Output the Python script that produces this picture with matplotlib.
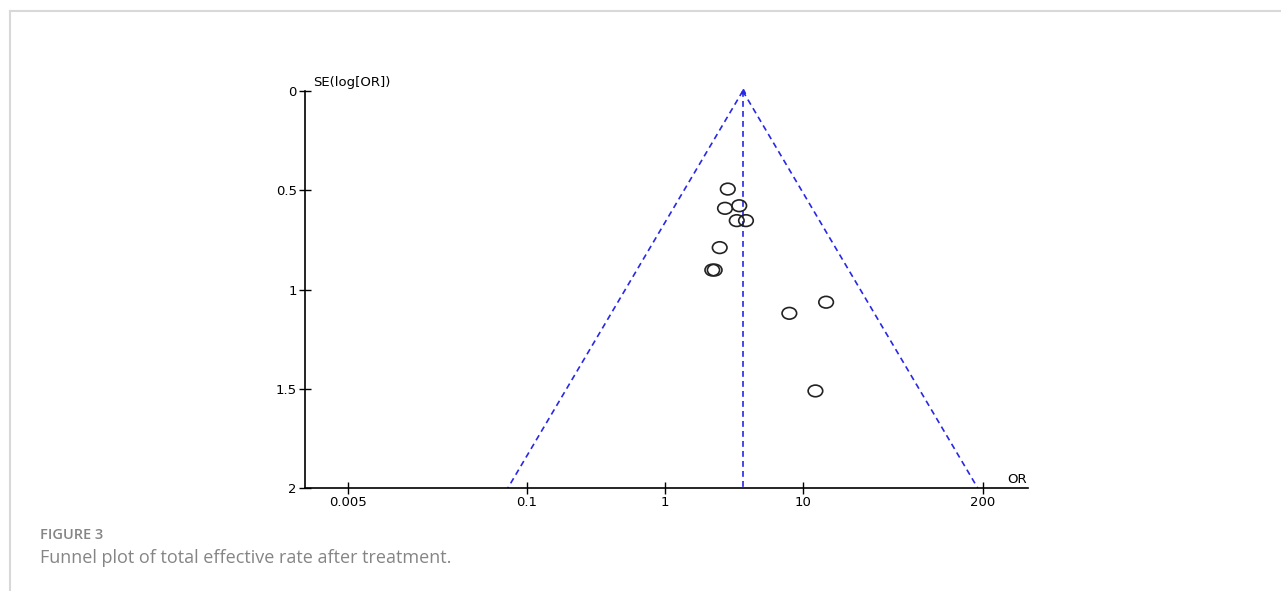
import numpy as np
import matplotlib
matplotlib.use('Agg')
from matplotlib import pyplot as plt
from matplotlib.lines import Line2D
from matplotlib.path import Path

# odds ratio and SE(log OR) of each study
odds_ratio = [2.85, 2.72, 3.45, 3.31, 3.86, 2.49, 2.20, 2.29, 7.96, 14.7, 12.3]
se_log_or = [0.494, 0.591, 0.578, 0.653, 0.653, 0.789, 0.902, 0.902, 1.120, 1.064, 1.511]
pooled_or = 3.66
se_max = 2.0

x_ticks = [0.005, 0.1, 1, 10, 200]
x_tick_labels = ['0.005', '0.1', '1', '10', '200']
y_ticks = [0, 0.5, 1, 1.5, 2]
y_tick_labels = ['0', '0.5', '1', '1.5', '2']

plt.rcParams['font.family'] = ['DejaVu Sans']

fig = plt.figure(figsize=(12.81, 5.91), dpi=100)
ax = fig.add_axes([0.2381, 0.1743, 0.5644, 0.6717])

# funnel: 95% limits around pooled estimate
se_line = np.array([0, se_max])
dash = (0, (3.5, 2.5))
ax.plot(pooled_or * np.exp(-1.96 * se_line), se_line, ls=dash, color='#2828e6', lw=1.2)
ax.plot(pooled_or * np.exp(1.96 * se_line), se_line, ls=dash, color='#2828e6', lw=1.2)
ax.plot([pooled_or, pooled_or], se_line, ls=dash, color='#2828e6', lw=1.2)
ax.plot([pooled_or], [0], marker='^', color='#2828e6', ms=3, clip_on=False)

# slightly flattened circles like the original
circ = Path.unit_circle()
ellipse = Path(circ.vertices * np.array([1.0, 0.8]), circ.codes)
ax.scatter(odds_ratio, se_log_or, marker=ellipse, s=110, facecolors='none',
           edgecolors='#222222', linewidths=1.2, zorder=3)

ax.set_xscale('log')
ax.set_xlim(0.00246, 427)
ax.set_ylim(2, 0)
ax.set_xticks(x_ticks)
ax.set_xticklabels(x_tick_labels)
ax.minorticks_off()
ax.set_yticks(y_ticks)
ax.set_yticklabels(y_tick_labels)
ax.tick_params(direction='inout', length=8, width=1, labelsize=9.5, pad=2)
for s in ['top', 'right']:
    ax.spines[s].set_visible(False)
ax.spines['left'].set_linewidth(1.2)
ax.spines['bottom'].set_linewidth(1.2)

ax.text(0.011, 1.005, 'SE(log[OR])', transform=ax.transAxes, fontsize=9.5,
        ha='left', va='bottom')
ax.text(0.998, 0.005, 'OR', transform=ax.transAxes, fontsize=9.5,
        ha='right', va='bottom')

# caption and page frame
fig.text(40 / 1281, 1 - 535 / 591, 'FIGURE 3', fontsize=10.5, color='#858585',
         family=['Open Sans', 'DejaVu Sans'], fontweight='semibold', va='center')
fig.text(40 / 1281, 1 - 558 / 591, 'Funnel plot of total effective rate after treatment.',
         fontsize=13, color='#858585', family=['Open Sans', 'DejaVu Sans'], va='center')
fig.add_artist(Line2D([9.5 / 1281, 1], [1 - 10.5 / 591, 1 - 10.5 / 591],
                      transform=fig.transFigure, color='#d8d8d8', lw=1.5))
fig.add_artist(Line2D([9.5 / 1281, 9.5 / 1281], [0, 1 - 10.5 / 591],
                      transform=fig.transFigure, color='#d8d8d8', lw=1.5))

fig.savefig('out.png', dpi=100)
